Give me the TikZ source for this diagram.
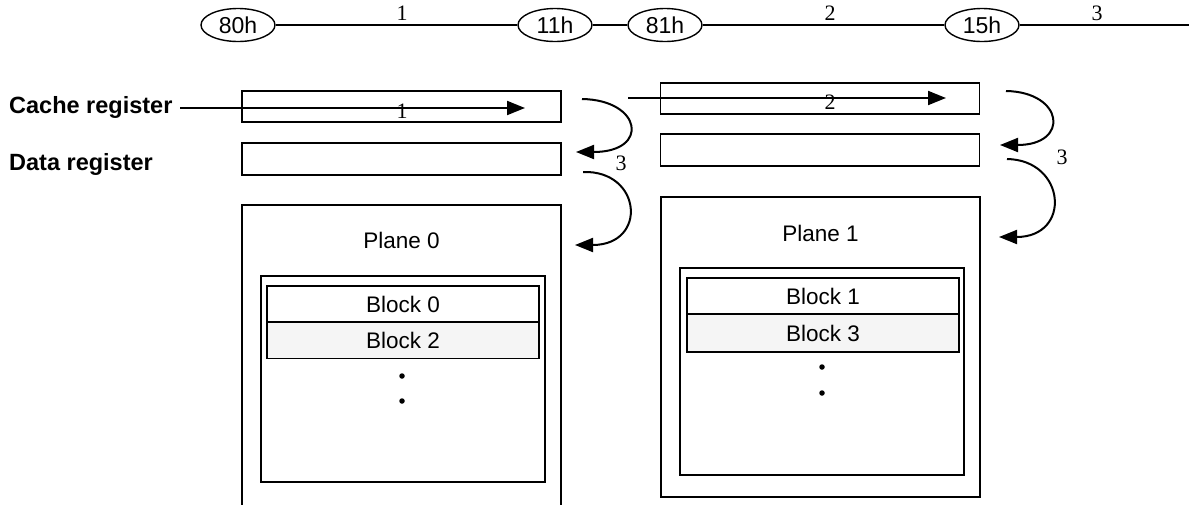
\documentclass[tikz,border=0pt]{standalone}
\usepackage{fontspec}
\setmainfont{Liberation Sans}
\newfontfamily\tnr{Liberation Serif}
\usetikzlibrary{arrows.meta,shapes.geometric}
\begin{document}
\begin{tikzpicture}[x=1pt,y=-1pt,
  oval/.style={ellipse,draw,line width=1.4pt,minimum width=74pt,minimum height=33pt,inner sep=0pt,font=\fontsize{23}{27}\selectfont},
  link/.style={line width=1.3pt},
  num/.style={inner sep=0pt,font=\tnr\fontsize{22}{25}\selectfont},
  lbl/.style={inner sep=0pt,anchor=west,font=\bfseries\fontsize{23.5}{27}\selectfont},
  txt/.style={inner sep=0pt,font=\fontsize{22.5}{26}\selectfont},
  reg/.style={draw,line width=1.6pt,rectangle,inner sep=0pt,minimum width=319pt},
  plane/.style={draw,line width=1.6pt,rectangle,inner sep=0pt,minimum width=319pt},
  inner/.style={draw,line width=1.6pt,rectangle,inner sep=0pt,minimum width=284pt},
  blk/.style={draw,line width=1.6pt,rectangle,inner sep=0pt,minimum width=272pt,minimum height=36pt,font=\fontsize{22.5}{26}\selectfont},
  dot/.style={circle,fill,inner sep=0pt,minimum size=5.5pt},
  flow/.style={line width=2pt,-{Triangle[length=18pt,width=14pt]}},
]
\useasboundingbox (0,0) rectangle (1189,504);

% top command sequence
\node[oval] (e80) at (238,25) {80h};
\node[oval] (e11) at (555,25) {11h};
\node[oval] (e81) at (665,25) {81h};
\node[oval] (e15) at (982,25) {15h};
\coordinate (rend) at (1189,25);
\draw[link] (e80) -- (e11);
\draw[link] (e11) -- (e81);
\draw[link] (e81) -- (e15);
\draw[link] (e15) -- (rend);
\node[num,anchor=south] (t1) at (402,21) {1};
\node[num,anchor=south] (t2) at (830,21) {2};
\node[num,anchor=south] (t3) at (1097,21) {3};

% left labels
\node[lbl] (lc) at (9,107) {Cache register};
\node[lbl] (ld) at (9,164) {Data register};

% plane 0 side
\node[reg,minimum height=31pt] (c0) at (401.5,106.5) {};
\node[reg,minimum height=32pt] (d0) at (401.5,159) {};
\node[plane,minimum height=305pt] (p0) at (401.5,357.5) {};
\node[txt] (p0t) at (401.5,240) {Plane 0};
\node[inner,minimum height=206pt] (i0) at (403,379) {};
\node[blk] (b0) at (403,304) {Block 0};
\node[blk,fill=gray!8] (b2) at (403,340.5) {Block 2};
\node[dot] (o0a) at (402,376) {};
\node[dot] (o0b) at (402,401) {};

% plane 1 side
\node[reg,minimum height=31pt] (c1) at (820,98.5) {};
\node[reg,minimum height=32pt] (d1) at (820,150) {};
\node[plane,minimum height=300pt] (p1) at (820.5,347) {};
\node[txt] (p1t) at (820.5,233) {Plane 1};
\node[inner,minimum height=207pt] (i1) at (822,371.5) {};
\node[blk] (b1) at (823,296) {Block 1};
\node[blk,fill=gray!8,minimum height=38pt] (b3) at (823,333) {Block 3};
\node[dot] (o1a) at (822,367) {};
\node[dot] (o1b) at (822,393) {};

% input arrows
\coordinate (a1s) at (180,108);
\coordinate (a1e) at (525,108);
\draw[flow] (a1s) -- (a1e);
\node[num] (n1) at (402,111) {1};
\coordinate (a2s) at (628,98);
\coordinate (a2e) at (946,98);
\draw[flow] (a2s) -- (a2e);
\node[num] (n2) at (830,102) {2};

% transfer arrows (left)
\coordinate (k1s) at (582,99);
\coordinate (k1e) at (576,152);
\draw[flow] (k1s) .. controls (642,100) and (650,152) .. (k1e);
\coordinate (k2s) at (583,172);
\coordinate (k2e) at (575,245);
\draw[flow] (k2s) .. controls (642,170) and (648,245) .. (k2e);
\node[num] (n3a) at (621,163) {3};

% transfer arrows (right)
\coordinate (r1s) at (1006,91);
\coordinate (r1e) at (1000,145);
\draw[flow] (r1s) .. controls (1064,92) and (1070,145) .. (r1e);
\coordinate (r2s) at (1007,159);
\coordinate (r2e) at (999,237);
\draw[flow] (r2s) .. controls (1066,160) and (1072,237) .. (r2e);
\node[num] (n3b) at (1062,157) {3};
\end{tikzpicture}
\end{document}
